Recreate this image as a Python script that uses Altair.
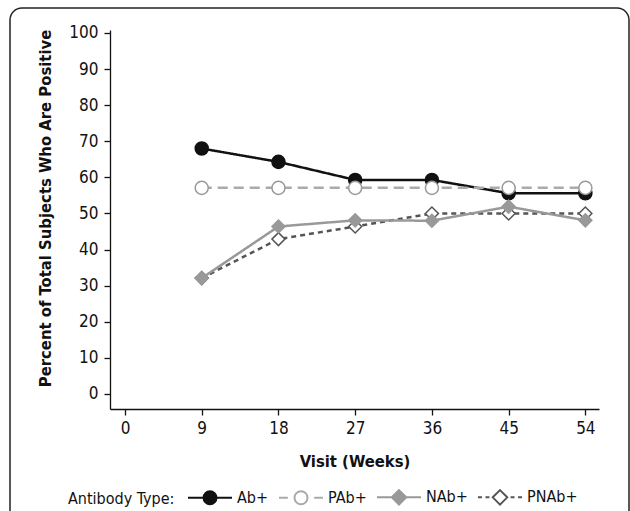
import altair as alt
import pandas as pd

weeks = [9, 18, 27, 36, 45, 54]
ab = [68.0, 64.3, 59.3, 59.3, 55.6, 55.6]
pab = [57.1, 57.1, 57.1, 57.1, 57.1, 57.1]
nab = [32.1, 46.4, 48.1, 48.0, 51.9, 48.1]
pnab = [32.1, 42.9, 46.4, 50.0, 50.0, 50.0]

series_order = ["Ab+", "PAb+", "NAb+", "PNAb+"]
draw_order = ["Ab+", "PNAb+", "NAb+", "PAb+"]
values = {"Ab+": ab, "PAb+": pab, "NAb+": nab, "PNAb+": pnab}

rows = []
for s in draw_order:
    for w, v in zip(weeks, values[s]):
        rows.append({"Week": w, "Pct": v, "Type": s})
df = pd.DataFrame(rows)

FONT = "DejaVu Sans Condensed"
line_colors = ["#111111", "#aaaaaa", "#999999", "#555555"]
dashes = [[1, 0], [10, 6], [1, 0], [5, 4]]
pt_stroke = ["#111111", "#999999", "#999999", "#555555"]
pt_fill = ["#111111", "#ffffff", "#999999", "#ffffff"]
shapes = ["circle", "circle", "diamond", "diamond"]

# legend symbols: line + marker glyphs (unit coordinates, -1..1)
CIRC = "M-0.295,0A0.295,0.295,0,1,1,0.295,0A0.295,0.295,0,1,1,-0.295,0Z"
DIAM = "M0,-0.33L0.33,0L0,0.33L-0.33,0Z"
legend_paths = [
    "M-1,0L-0.295,0M0.295,0L1,0" + CIRC,
    "M-1,0L-0.6,0M0.6,0L1,0" + CIRC,
    "M-1,0L-0.33,0M0.33,0L1,0" + DIAM,
    "M-1,0L-0.82,0M-0.66,0L-0.48,0M0.48,0L0.66,0M0.82,0L1,0" + DIAM,
]
legend_stroke = ["#111111", "#aaaaaa", "#999999", "#555555"]
legend_fill = ["#111111", "#ffffff", "#999999", "#ffffff"]

SYM_W = 44
SYM_SW = 2
LBL_FS = 16
ROW = max(int(-(-(SYM_W + SYM_SW) // 1)), LBL_FS)

leg = alt.Legend(
    title="Antibody Type:", orient="none", direction="horizontal",
    legendX=-42, legendY=467 - ROW / 2,
    titleOrient="left", titleAnchor="middle", titleBaseline="top",
    titleFont=FONT, titleFontSize=LBL_FS, titleFontWeight="normal", titleColor="#111",
    titlePadding=12,
    labelFont=FONT, labelFontSize=LBL_FS, labelColor="#111", labelOffset=4,
    symbolSize=SYM_W * SYM_W, symbolStrokeWidth=SYM_SW,
    columnPadding=6,
)

x_enc = alt.X("Week:Q", scale=alt.Scale(domain=[-1.76, 55.6], nice=False, zero=False),
              axis=alt.Axis(values=[0, 9, 18, 27, 36, 45, 54], title="Visit (Weeks)",
                            titleY=52, titleBaseline="middle"))
y_enc = alt.Y("Pct:Q", scale=alt.Scale(domain=[-4.16, 100.83], nice=False, zero=False),
              axis=alt.Axis(values=list(range(0, 101, 10)),
                            title="Percent of Total Subjects Who Are Positive",
                            titleX=-65, titleY=178, titleBaseline="middle", titleAlign="center",
                            titleAnchor="start", titleAngle=270))

lines = alt.Chart(df).mark_line(strokeWidth=2.5).encode(
    x=x_enc, y=y_enc,
    color=alt.Color("Type:N", scale=alt.Scale(domain=series_order, range=line_colors), legend=None),
    strokeDash=alt.StrokeDash("Type:N", scale=alt.Scale(domain=series_order, range=dashes), legend=None),
)

points = alt.Chart(df).mark_point(size=170, opacity=1, strokeWidth=1.5).encode(
    x=x_enc, y=y_enc,
    fill=alt.Fill("Type:N", scale=alt.Scale(domain=series_order, range=pt_fill), legend=None),
    stroke=alt.Stroke("Type:N", scale=alt.Scale(domain=series_order, range=pt_stroke), legend=None),
    shape=alt.Shape("Type:N", scale=alt.Scale(domain=series_order, range=shapes), legend=None),
)

legend_layer = alt.Chart(df).transform_filter("false").mark_point(opacity=1).encode(
    x=x_enc, y=y_enc,
    fill=alt.Fill("Type:N", scale=alt.Scale(domain=series_order, range=legend_fill), legend=leg),
    stroke=alt.Stroke("Type:N", scale=alt.Scale(domain=series_order, range=legend_stroke), legend=leg),
    shape=alt.Shape("Type:N", scale=alt.Scale(domain=series_order, range=legend_paths), legend=leg),
)

frame = alt.Chart(alt.Data(values=[{}])).mark_rect(
    fill="transparent", stroke="#222222", strokeWidth=1.5, cornerRadius=12
).encode(x=alt.value(-100), x2=alt.value(519), y=alt.value(-22), y2=alt.value(510))

chart = alt.layer(frame, lines, points, legend_layer).resolve_scale(
    fill="independent", stroke="independent", shape="independent"
).properties(
    width=489, height=379,
    autosize=alt.AutoSizeParams(type="none"),
    padding={"left": 110, "top": 30, "right": 31, "bottom": 102},
).configure_view(stroke=None).configure_axis(
    domainColor="#111", domainWidth=1.3, tickColor="#111", tickWidth=1.3, tickSize=6,
    grid=False, labelFont=FONT, labelFontSize=17, labelColor="#111",
    titleFont=FONT, titleFontSize=16.5, titleFontWeight="bold", titleColor="#111",
).configure_axisY(labelPadding=6).configure_axisX(labelPadding=5)

chart.save("out.html", embed_options={"renderer": "svg", "actions": False})
